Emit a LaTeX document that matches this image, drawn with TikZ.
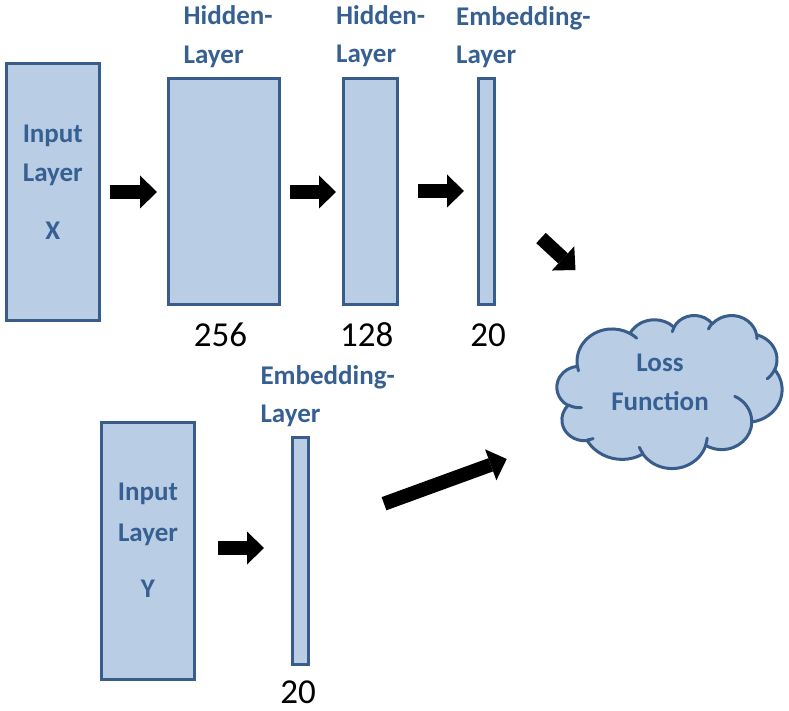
\documentclass[tikz,border=0pt]{standalone}
\usepackage{fontspec}
\setmainfont{Carlito}
\usetikzlibrary{arrows.meta,calc}
\definecolor{boxfill}{HTML}{B9CDE5}
\definecolor{boxline}{HTML}{385D8A}
\definecolor{lbltext}{HTML}{376092}
\begin{document}
\begin{tikzpicture}[x=1pt,y=-1pt,
  layerbox/.style={draw=boxline, fill=boxfill, line width=3pt, inner sep=0pt, outer sep=0pt},
  cloudline/.style={draw=boxline, line width=3pt, line join=round, line cap=round},
  lbl/.style={text=lbltext, font=\fontsize{27}{32}\selectfont\bfseries, inner sep=0pt},
  num/.style={text=black, font=\fontsize{35}{40}\selectfont, inner sep=0pt},
  blockarr/.style={line width=14pt, black, -{Triangle[length=17pt,width=33pt,line width=0pt]}}]
\useasboundingbox (0,0) rectangle (789,711);

% boxes
\node[layerbox, minimum width=92.7pt, minimum height=256.7pt] (inx) at (52.85,191.85) {};
\node[layerbox, minimum width=110.7pt, minimum height=226pt] (h1) at (223.85,191.5) {};
\node[layerbox, minimum width=54.3pt, minimum height=226pt] (h2) at (370.35,191.5) {};
\node[layerbox, minimum width=15.4pt, minimum height=226pt] (emb) at (486.5,191.5) {};
\node[layerbox, minimum width=93pt, minimum height=256.7pt] (iny) at (148,550.85) {};
\node[layerbox, minimum width=16pt, minimum height=227pt] (emby) at (300.5,551) {};

% cloud (drawn directly, puff by puff)
\coordinate (cloudstart) at (577.31,365.89);
\path[cloudline, fill=boxfill] (cloudstart)
  arc[start angle=187.75, delta angle=-128.11, x radius=35.17pt, y radius=32.55pt]
  arc[start angle=152.02, delta angle=-106.58, x radius=27.78pt, y radius=25.74pt]
  arc[start angle=153.48, delta angle=-116.16, x radius=22.73pt, y radius=21.06pt]
  arc[start angle=139.70, delta angle=-129.49, x radius=25.30pt, y radius=23.36pt]
  arc[start angle=74.77, delta angle=-97.98, x radius=27.78pt, y radius=25.76pt]
  arc[start angle=37.52, delta angle=-119.38, x radius=35.29pt, y radius=32.65pt]
  arc[start angle=-0.46, delta angle=-121.52, x radius=30.13pt, y radius=27.86pt]
  arc[start angle=-16.84, delta angle=-129.39, x radius=35.17pt, y radius=32.64pt]
  arc[start angle=-58.99, delta angle=-91.21, x radius=40.21pt, y radius=37.34pt]
  arc[start angle=-83.31, delta angle=-139.82, x radius=22.71pt, y radius=20.96pt]
  arc[start angle=-120.36, delta angle=-143.75, x radius=22.63pt, y radius=21.06pt]
  -- cycle;
% inner strokes of the cloud
\draw[cloudline] (581.44,407.71) arc[start angle=-85.55, delta angle=-34.81, x radius=22.63pt, y radius=21.06pt];
\draw[cloudline] (593.08,438.60) arc[start angle=-68.24, delta angle=-15.07, x radius=22.71pt, y radius=20.96pt];
\draw[cloudline] (642.82,453.44) arc[start angle=-146.23, delta angle=-12.24, x radius=35.17pt, y radius=32.64pt];
\draw[cloudline] (707.14,438.08) arc[start angle=-4.74, delta angle=-12.1, x radius=35.17pt, y radius=32.64pt];
\draw[cloudline] (734.76,396.30) arc[start angle=64.02, delta angle=-64.48, x radius=30.13pt, y radius=27.86pt];
\draw[cloudline] (774.70,369.38) arc[start angle=-23.21, delta angle=-26.42, x radius=27.78pt, y radius=25.76pt];
\draw[cloudline] (756.60,334.22) arc[start angle=10.21, delta angle=-11.03, x radius=25.30pt, y radius=23.36pt];
\draw[cloudline] (708.45,329.00) arc[start angle=156.30, delta angle=-16.6, x radius=25.30pt, y radius=23.36pt];
\draw[cloudline] (672.32,331.72) arc[start angle=167.72, delta angle=-14.24, x radius=22.73pt, y radius=21.06pt];
\draw[cloudline] (629.92,333.39) arc[start angle=59.64, delta angle=-13.89, x radius=35.17pt, y radius=32.55pt];
\draw[cloudline] (578.50,370.92) arc[start angle=-163.19, delta angle=-9.06, x radius=35.17pt, y radius=32.55pt];

% labels
\node[lbl, anchor=base west] (h1a) at (183.5,25) {Hidden-};
\node[lbl, anchor=base west] (h1b) at (183.5,63.3) {Layer};
\node[lbl, anchor=base west] (h2a) at (336,25) {Hidden-};
\node[lbl, anchor=base west] (h2b) at (336,63) {Layer};
\node[lbl, anchor=base west] (ema) at (456,25.5) {Embedding-};
\node[lbl, anchor=base west] (emb2) at (456,64) {Layer};
\node[lbl, anchor=base west] (eya) at (260.3,384.3) {Embedding-};
\node[lbl, anchor=base west] (eyb) at (260.3,422.3) {Layer};

\node[lbl, anchor=base] (ix1) at (52.8,142.7) {Input};
\node[lbl, anchor=base] (ix2) at (52.8,181.7) {Layer};
\node[lbl, anchor=base] (ix3) at (52.8,239.3) {X};
\node[lbl, anchor=base] (iy1) at (148,500.7) {Input};
\node[lbl, anchor=base] (iy2) at (148,541) {Layer};
\node[lbl, anchor=base] (iy3) at (148,597.3) {Y};
\node[lbl, anchor=base] (lf1) at (660,371.7) {Loss};
\node[lbl, anchor=base] (lf2) at (660,410) {Function};

\node[num, anchor=base] (n1) at (220.5,346) {256};
\node[num, anchor=base] (n2) at (366.7,346) {128};
\node[num, anchor=base] (n3) at (488,346) {20};
\node[num, anchor=base] (n4) at (298,703) {20};

% arrows
\coordinate (a1s) at (110,192); \coordinate (a1e) at (157,192);
\coordinate (a2s) at (290,192); \coordinate (a2e) at (336,192);
\coordinate (a3s) at (418,191); \coordinate (a3e) at (464,191);
\coordinate (a4s) at (218,548); \coordinate (a4e) at (264,548);
\coordinate (a5s) at (541,238); \coordinate (a5e) at (575.5,270);
\coordinate (a6s) at (384,503.7); \coordinate (a6e) at (506.7,459);
\draw[blockarr] (a1s) -- (a1e);
\draw[blockarr] (a2s) -- (a2e);
\draw[blockarr] (a3s) -- (a3e);
\draw[blockarr] (a4s) -- (a4e);
\draw[blockarr] (a5s) -- (a5e);
\draw[blockarr] (a6s) -- (a6e);
\end{tikzpicture}
\end{document}
